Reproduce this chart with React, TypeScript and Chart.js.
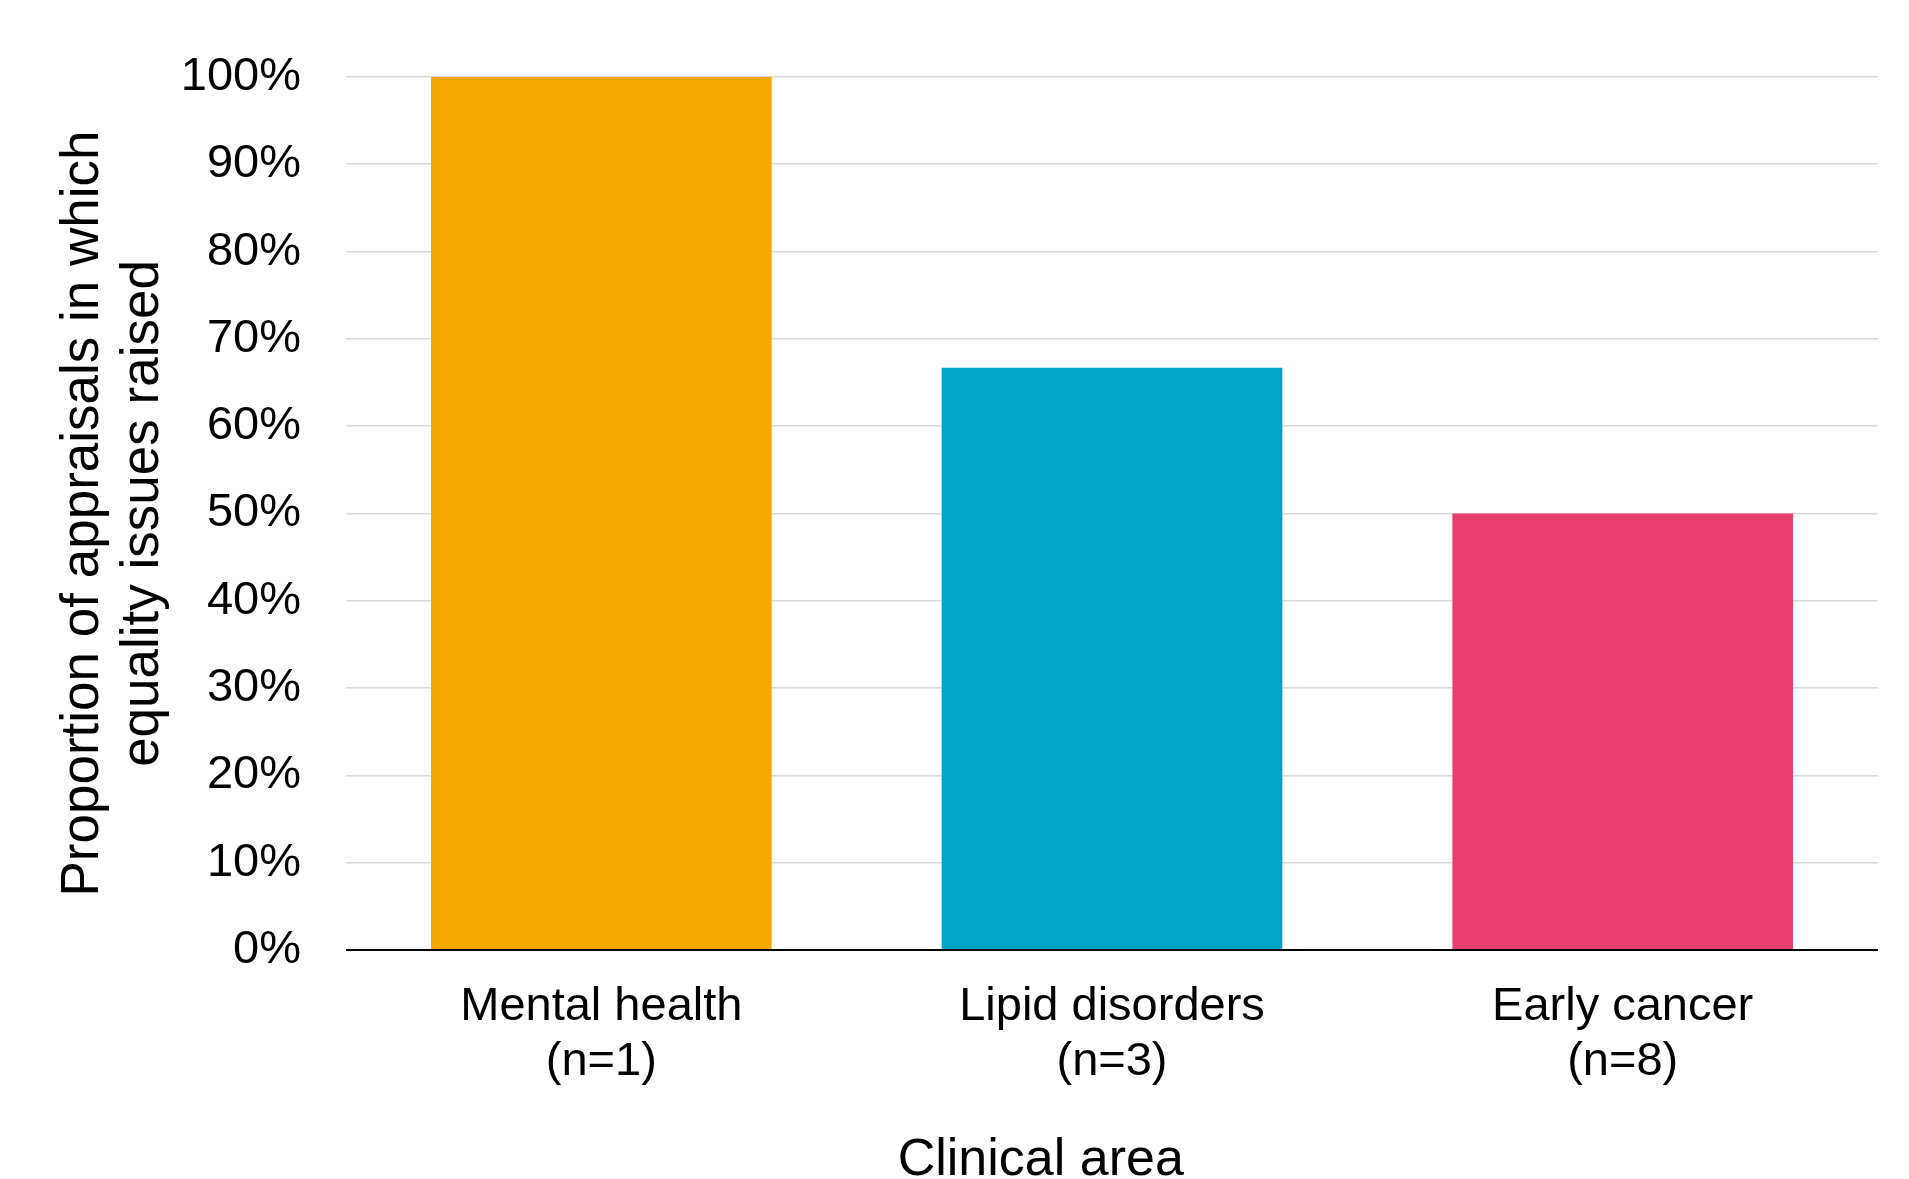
import React, { useEffect, useRef } from "react";
import { Chart, registerables } from "chart.js";

Chart.register(...registerables);

const categoryNames = ["Mental health", "Lipid disorders", "Early cancer"];
const sampleSizes = ["(n=1)", "(n=3)", "(n=8)"];
const proportionValues = [100, 66.7, 50];
const barColors = ["#F5A800", "#00A3C8", "#E93F70"];
const yTitleLines = ["Proportion of appraisals in which", "equality issues raised"];
const xTitle = "Clinical area";

const FONT = '"Liberation Sans", Arial, Helvetica, sans-serif';

const xTitlePlugin = {
  id: "xTitleCustom",
  afterDraw(chart: any) {
    const { ctx, chartArea } = chart;
    ctx.save();
    ctx.font = `52px ${FONT}`;
    ctx.fillStyle = "#000000";
    ctx.textAlign = "center";
    ctx.textBaseline = "alphabetic";
    const x = chartArea.left + (chartArea.right - chartArea.left) * 0.4535;
    ctx.fillText(xTitle, x, chart.height - 4);
    ctx.restore();
  },
};

export default function App() {
  const canvasRef = useRef<HTMLCanvasElement | null>(null);

  useEffect(() => {
    if (!canvasRef.current) return;
    const labels = categoryNames.map((n, i) => [n, sampleSizes[i]]);
    const chart = new Chart(canvasRef.current, {
      type: "bar",
      data: {
        labels,
        datasets: [
          {
            data: proportionValues,
            backgroundColor: barColors,
            borderWidth: 0,
            barPercentage: 1,
            categoryPercentage: 0.667,
          },
        ],
      },
      plugins: [xTitlePlugin],
      options: {
        animation: false,
        responsive: false,
        devicePixelRatio: 1,
        layout: { padding: { top: 77, right: 31, left: 0, bottom: 0 } },
        plugins: {
          legend: { display: false },
          tooltip: { enabled: false },
        },
        scales: {
          x: {
            afterFit: (scale: any) => {
              scale.height = 229;
            },
            grid: { display: false, drawTicks: false },
            border: { display: false },
            ticks: {
              color: "#000000",
              font: { family: FONT, size: 47, lineHeight: 1.17 },
              padding: 30,
              maxRotation: 0,
              autoSkip: false,
            },
            title: { display: false },
          },
          y: {
            min: 0,
            max: 100,
            afterFit: (scale: any) => {
              scale.width = 346;
            },
            grid: {
              drawTicks: false,
              color: (ctx: any) => (ctx.tick && ctx.tick.value === 0 ? "#000000" : "#d9d9d9"),
              lineWidth: (ctx: any) => (ctx.tick && ctx.tick.value === 0 ? 2 : 1.6),
            },
            border: { display: false },
            ticks: {
              stepSize: 10,
              color: "#000000",
              font: { family: FONT, size: 47 },
              padding: 45,
              callback: (v: any) => `${v}%`,
            },
            title: {
              display: true,
              text: yTitleLines,
              color: "#000000",
              font: { family: FONT, size: 53, lineHeight: 1.12 },
              padding: { top: 54, bottom: 0 },
            },
          },
        },
      },
    });
    return () => chart.destroy();
  }, []);

  return (
    <div style={{ position: "fixed", left: 0, top: 0, width: 1909, height: 1179, background: "#ffffff" }}>
      <canvas ref={canvasRef} width={1909} height={1179} style={{ display: "block" }} />
    </div>
  );
}
